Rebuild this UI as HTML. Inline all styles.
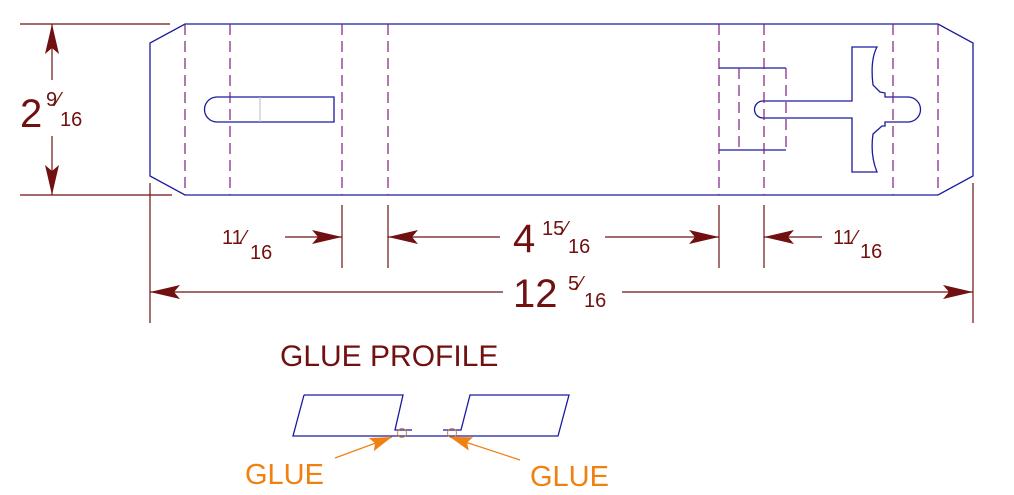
<!DOCTYPE html>
<html><head><meta charset="utf-8"><style>
html,body{margin:0;padding:0;background:#fff;}
svg{display:block;}
text{font-family:"Liberation Sans",sans-serif;}
</style></head><body>
<svg width="1014" height="495" viewBox="0 0 1014 495" xmlns="http://www.w3.org/2000/svg">
<defs>
<marker id="ar" viewBox="0 0 30 14" refX="30" refY="7" markerWidth="30" markerHeight="14" markerUnits="userSpaceOnUse" orient="auto-start-reverse">
<path d="M0,0 L30,7 L0,14 L6,7 Z" fill="#701010"/></marker>
<marker id="ao" viewBox="0 0 22 14" refX="22" refY="7" markerWidth="22" markerHeight="14" markerUnits="userSpaceOnUse" orient="auto">
<path d="M0,0 L22,7 L0,14 L4,7 Z" fill="#f08010"/></marker>
</defs>
<g fill="none" stroke="#1a1aa0" stroke-width="1.3">
<path d="M185,24 L938,24 L973,43 L973,176 L938,195 L185,195 L150,176 L150,43 Z"/>
<path d="M217,97 L334,97 L334,122 L217,122 A12.5,12.5 0 0 1 217,97 Z"/>
<path d="M719,68 L786,68 M719,150 L786,150"/>
<path d="M763,101 L852,101 L852,47 L877,47 Q870,60 873,85 L880,92 L885,93 L885,97 L908,97 A12.5,12.5 0 0 1 908,122 L885,122 L885,126 L882,126 L873,134 Q870,155 877,172 L852,172 L852,118 L763,118 A8.5,8.5 0 0 1 763,101 Z"/>
</g>
<line x1="260" y1="97" x2="260" y2="122" stroke="#bbb" stroke-width="1"/>
<g stroke="#7a2080" stroke-width="1.2" stroke-dasharray="11,6">
<line x1="185" y1="24" x2="185" y2="195"/>
<line x1="230" y1="24" x2="230" y2="195"/>
<line x1="342" y1="24" x2="342" y2="195"/>
<line x1="388" y1="24" x2="388" y2="195"/>
<line x1="719" y1="24" x2="719" y2="195"/>
<line x1="764" y1="24" x2="764" y2="195"/>
<line x1="739" y1="68" x2="739" y2="150"/>
<line x1="786" y1="68" x2="786" y2="150"/>
<line x1="893" y1="24" x2="893" y2="195"/>
<line x1="938" y1="24" x2="938" y2="195"/>
</g>
<g stroke="#701010" stroke-width="1.2" fill="none">
<line x1="20" y1="24" x2="170" y2="24"/>
<line x1="20" y1="195" x2="172" y2="195"/>
<line x1="52" y1="24" x2="52" y2="80" marker-start="url(#ar)"/>
<line x1="52" y1="136" x2="52" y2="195" marker-end="url(#ar)"/>
<line x1="342" y1="205" x2="342" y2="268"/>
<line x1="388" y1="205" x2="388" y2="268"/>
<line x1="719" y1="205" x2="719" y2="268"/>
<line x1="764" y1="205" x2="764" y2="268"/>
<line x1="150" y1="183" x2="150" y2="323"/>
<line x1="973" y1="183" x2="973" y2="323"/>
<line x1="285" y1="237" x2="342" y2="237" marker-end="url(#ar)"/>
<line x1="388" y1="237" x2="500" y2="237" marker-start="url(#ar)"/>
<line x1="605" y1="237" x2="719" y2="237" marker-end="url(#ar)"/>
<line x1="822" y1="237" x2="764" y2="237" marker-end="url(#ar)"/>
<line x1="150" y1="292" x2="503" y2="292" marker-start="url(#ar)"/>
<line x1="622" y1="292" x2="973" y2="292" marker-end="url(#ar)"/>
</g>
<g fill="#701010">
<text x="20" y="127" font-size="40">2</text><text x="46" y="106" font-size="20">9⁄</text><text x="60" y="126" font-size="20">16</text>
<text x="222" y="244" font-size="20">11⁄</text><text x="250" y="259" font-size="20">16</text>
<text x="513" y="252" font-size="40">4</text><text x="542" y="235" font-size="20">15⁄</text><text x="568" y="253" font-size="20">16</text>
<text x="833" y="244" font-size="20">11⁄</text><text x="860" y="258" font-size="20">16</text>
<text x="513" y="307" font-size="40">12</text><text x="568" y="290" font-size="20">5⁄</text><text x="584" y="307" font-size="20">16</text>
<text x="280" y="366" font-size="30">GLUE PROFILE</text>
</g>
<g fill="none" stroke="#1a1aa0" stroke-width="1.3">
<path d="M304,395 L403,395 L395,430 L412,430"/>
<path d="M304,395 L293,436 L558,436 L569,395 L470,395 L461,430 L443,430"/>
</g>
<g fill="none" stroke="#d08030" stroke-width="1">
<circle cx="402" cy="433" r="4.5"/>
<circle cx="452" cy="433" r="4.5"/>
</g>
<g stroke="#f08010" stroke-width="1.2">
<line x1="335" y1="458" x2="392" y2="437" marker-end="url(#ao)"/>
<line x1="520" y1="460" x2="450" y2="437" marker-end="url(#ao)"/>
</g>
<g fill="#f08010" font-size="29">
<text x="245" y="484">GLUE</text>
<text x="530" y="486">GLUE</text>
</g>
</svg>
</body></html>
